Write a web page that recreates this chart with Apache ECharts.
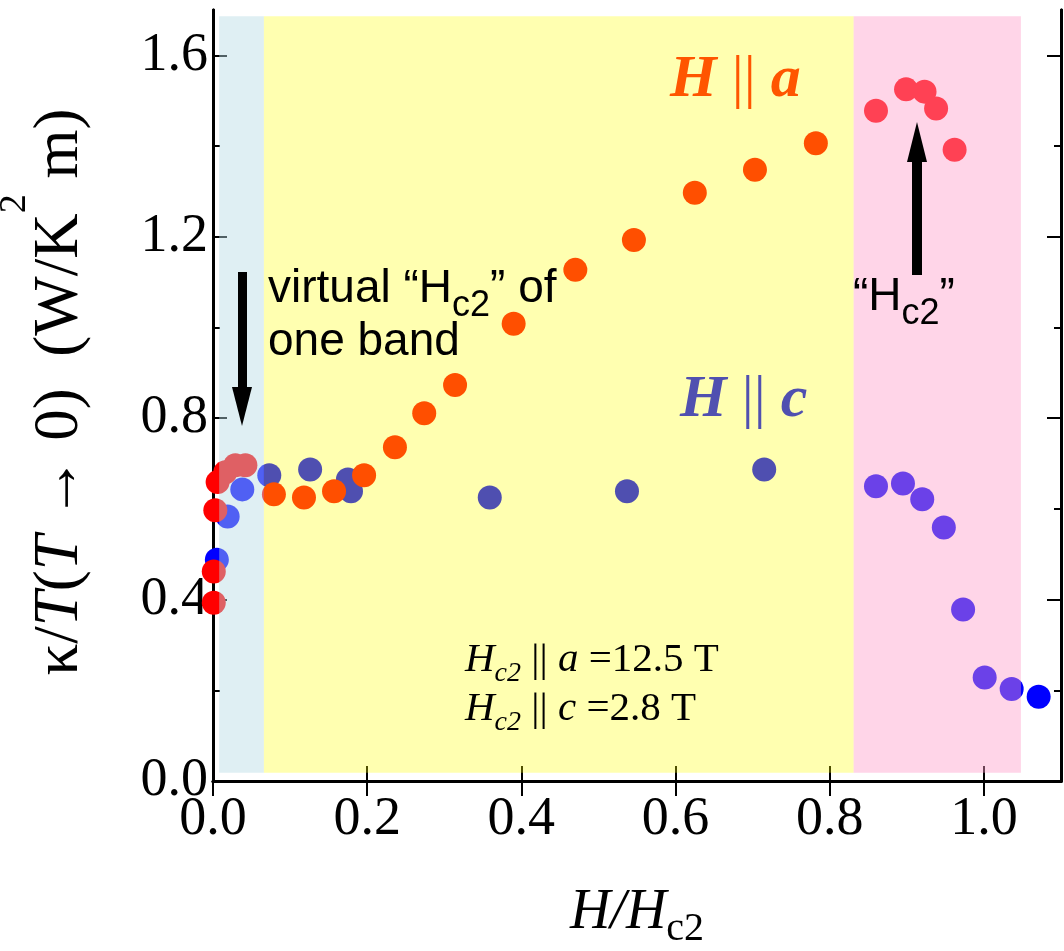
<!DOCTYPE html>
<html><head><meta charset="utf-8">
<script src="https://cdn.jsdelivr.net/npm/echarts@6/dist/echarts.min.js"></script>
<style>html,body{margin:0;padding:0;background:#fff}#c{width:1064px;height:951px}</style>
</head><body><div id="c"></div>
<script>
// ---- data ----
const xTickLabels = [0, 0.2, 0.4, 0.6, 0.8, 1.0];
const yTickLabels = [0, 0.4, 0.8, 1.2, 1.6];
const yMinorTicks = [0.2, 0.6, 1.0, 1.4];

const hParA_x = [0.001,0.001,0.003,0.006,0.016,0.029,0.042,0.079,0.118,0.157,0.196,0.236,0.274,0.314,0.390,0.470,0.546,0.625,0.703,0.782,0.860,0.899,0.923,0.938,0.962];
const hParA_y = [0.393,0.462,0.597,0.659,0.681,0.696,0.696,0.632,0.625,0.639,0.674,0.736,0.811,0.873,1.008,1.127,1.193,1.297,1.348,1.406,1.478,1.525,1.520,1.483,1.392];

const hParC_x = [0.005,0.019,0.038,0.073,0.126,0.175,0.179,0.359,0.537,0.715,0.860,0.895,0.920,0.948,0.973,1.001,1.036,1.071];
const hParC_y = [0.488,0.583,0.643,0.674,0.687,0.665,0.639,0.625,0.639,0.687,0.650,0.656,0.621,0.559,0.378,0.228,0.203,0.186];

const bandStart = [0.008, 0.066, 0.831];
const bandEnd   = [0.066, 0.831, 1.048];
const bandLow   = [0.018, 0.018, 0.018];
const bandHigh  = [1.686, 1.686, 1.686];

// ---- styles ----
const bandColors = ['rgba(182,218,227,0.44)', 'rgba(255,255,0,0.31)', 'rgba(255,154,200,0.42)'];
const SERIF = 'Liberation Serif';
const SANS = 'Liberation Sans';

const pairs = (xs, ys) => xs.map((x, i) => [x, ys[i]]);
const bandData = bandStart.map((s, i) => [s, bandEnd[i], bandLow[i], bandHigh[i]]);
const fmt = v => v.toFixed(1);

const axisLine = { show: true, lineStyle: { color: '#000', width: 3 } };
const baseX = { type: 'value', min: 0, max: 1.1, interval: 0.2, splitLine: { show: false } };
const baseY = { type: 'value', min: 0, max: 1.7, interval: 0.2, splitLine: { show: false } };

const subRich = (fam, mainSize, mainLH, subSize, subLH, italic) => ({
  n: { fontFamily: fam, fontSize: mainSize, lineHeight: mainLH, verticalAlign: 'top', fill: '#000' },
  i: { fontFamily: fam, fontSize: mainSize, fontStyle: 'italic', lineHeight: mainLH, verticalAlign: 'top', fill: '#000' },
  s: { fontFamily: fam, fontSize: subSize, fontStyle: italic ? 'italic' : 'normal', lineHeight: subLH, verticalAlign: 'bottom', fill: '#000' }
});

const chart = echarts.init(document.getElementById('c'), null, { renderer: 'canvas' });
chart.setOption({
  animation: false,
  backgroundColor: '#fff',
  grid: { left: 213, right: 3, top: 10, bottom: 170, containLabel: false },
  xAxis: [
    Object.assign({}, baseX, {
      position: 'bottom', axisLine,
      axisTick: { show: true, inside: true, length: 15, customValues: xTickLabels, lineStyle: { color: '#000', width: 2 } },
      axisLabel: { show: true, customValues: xTickLabels, formatter: fmt, margin: 12, fontFamily: SERIF, fontSize: 54, color: '#000' }
    }),
    Object.assign({}, baseX, {
      position: 'top', axisLine,
      axisTick: { show: true, inside: true, length: 15, customValues: xTickLabels, lineStyle: { color: '#000', width: 2 } },
      axisLabel: { show: false }
    })
  ],
  yAxis: [
    Object.assign({}, baseY, {
      position: 'left', axisLine,
      axisTick: { show: true, inside: true, length: 14, customValues: yTickLabels, lineStyle: { color: '#000', width: 2 } },
      axisLabel: { show: true, customValues: yTickLabels, formatter: fmt, margin: 5, fontFamily: SERIF, fontSize: 54, color: '#000' }
    }),
    Object.assign({}, baseY, {
      position: 'left', axisLine,
      axisTick: { show: true, inside: true, length: 7, customValues: yMinorTicks, lineStyle: { color: '#000', width: 2 } },
      axisLabel: { show: false }
    }),
    Object.assign({}, baseY, {
      position: 'right', axisLine,
      axisTick: { show: true, inside: true, length: 14, customValues: yTickLabels, lineStyle: { color: '#000', width: 2 } },
      axisLabel: { show: false }
    }),
    Object.assign({}, baseY, {
      position: 'right', axisLine,
      axisTick: { show: true, inside: true, length: 7, customValues: yMinorTicks, lineStyle: { color: '#000', width: 2 } },
      axisLabel: { show: false }
    })
  ],
  series: [
    { type: 'scatter', name: 'H||c', data: pairs(hParC_x, hParC_y), symbol: 'circle', symbolSize: 24,
      itemStyle: { color: '#0000FF', opacity: 1 }, z: 2, silent: true },
    { type: 'scatter', name: 'H||a', data: pairs(hParA_x, hParA_y), symbol: 'circle', symbolSize: 24,
      itemStyle: { color: '#FF0000', opacity: 1 }, z: 2, silent: true },
    { type: 'custom', name: 'bands', data: bandData, z: 3, silent: true, clip: false,
      encode: { x: [0, 1], y: [2, 3] },
      renderItem: (params, api) => {
        const p0 = api.coord([api.value(0), api.value(3)]);
        const p1 = api.coord([api.value(1), api.value(2)]);
        return { type: 'rect', shape: { x: p0[0], y: p0[1], width: p1[0] - p0[0], height: p1[1] - p0[1] },
                 style: { fill: bandColors[params.dataIndex] } };
      } }
  ],
  graphic: { elements: [
    // y axis title
    { type: 'text', x: 60, y: 392, rotation: Math.PI / 2, z: 100,
      style: { text: '{n|κ/}{i|T}{n|(}{i|T}{n| → 0)  (W/K}{s|2}{n| m)}', align: 'center', verticalAlign: 'middle',
        fontFamily: SERIF, fontSize: 63, fill: '#000',
        rich: { n: { fontFamily: SERIF, fontSize: 63, lineHeight: 128, verticalAlign: 'middle', fill: '#000' },
                i: { fontFamily: SERIF, fontSize: 63, fontStyle: 'italic', lineHeight: 128, verticalAlign: 'middle', fill: '#000' },
                s: { fontFamily: SERIF, fontSize: 38, lineHeight: 38, verticalAlign: 'top', fill: '#000' } } } },
    // x axis title
    { type: 'text', x: 637, y: 885, z: 100,
      style: { text: '{i|H/H}{s|c2}', align: 'center', verticalAlign: 'top', fontFamily: SERIF, fontSize: 56, fill: '#000',
        rich: subRich(SERIF, 56, 56, 40, 64, false) } },
    // H || a
    { type: 'text', x: 670, y: 80, z: 100,
      style: { text: '{b|H} {p|||} {b|a}', align: 'left', verticalAlign: 'middle', fontFamily: SERIF, fontSize: 60, fill: '#FF5500',
        rich: { b: { fontFamily: SERIF, fontSize: 60, fontWeight: 'bold', fontStyle: 'italic', fill: '#FF5500' },
                p: { fontFamily: SERIF, fontSize: 60, fill: '#FF5500' } } } },
    // H || c
    { type: 'text', x: 680, y: 400, z: 100,
      style: { text: '{b|H} {p|||} {b|c}', align: 'left', verticalAlign: 'middle', fontFamily: SERIF, fontSize: 60, fill: '#5050B0',
        rich: { b: { fontFamily: SERIF, fontSize: 60, fontWeight: 'bold', fontStyle: 'italic', fill: '#5050B0' },
                p: { fontFamily: SERIF, fontSize: 60, fill: '#5050B0' } } } },
    // virtual "Hc2" of / one band
    { type: 'text', x: 268, y: 266, z: 100,
      style: { text: '{n|virtual “H}{s|c2}{n|” of}', align: 'left', verticalAlign: 'top', fontFamily: SANS, fontSize: 46, fill: '#000',
        rich: subRich(SANS, 46, 46, 36, 58, false) } },
    { type: 'text', x: 268, y: 319, z: 100,
      style: { text: 'one band', align: 'left', verticalAlign: 'top', fontFamily: SANS, fontSize: 46, lineHeight: 46, fill: '#000' } },
    // "Hc2"
    { type: 'text', x: 853, y: 274, z: 100,
      style: { text: '{n|“H}{s|c2}{n|”}', align: 'left', verticalAlign: 'top', fontFamily: SANS, fontSize: 46, fill: '#000',
        rich: subRich(SANS, 46, 46, 36, 58, false) } },
    // Hc2 values
    { type: 'text', x: 465, y: 640, z: 100,
      style: { text: '{i|H}{s|c2}{n| || }{i|a}{n| =12.5 T}', align: 'left', verticalAlign: 'top', fontFamily: SERIF, fontSize: 41, fill: '#000',
        rich: subRich(SERIF, 41, 41, 28, 48, true) } },
    { type: 'text', x: 465, y: 689, z: 100,
      style: { text: '{i|H}{s|c2}{n| || }{i|c}{n| =2.8 T}', align: 'left', verticalAlign: 'top', fontFamily: SERIF, fontSize: 41, fill: '#000',
        rich: subRich(SERIF, 41, 41, 28, 48, true) } },
    // arrow down (virtual Hc2)
    { type: 'rect', z: 100, shape: { x: 238, y: 272, width: 9, height: 118 }, style: { fill: '#000' } },
    { type: 'polygon', z: 100, shape: { points: [[232, 387], [252, 387], [242, 426]] }, style: { fill: '#000' } },
    // arrow up (Hc2)
    { type: 'rect', z: 100, shape: { x: 912, y: 158, width: 10, height: 117 }, style: { fill: '#000' } },
    { type: 'polygon', z: 100, shape: { points: [[907, 162], [927, 162], [917, 122]] }, style: { fill: '#000' } }
  ] }
});
</script>
</body></html>
